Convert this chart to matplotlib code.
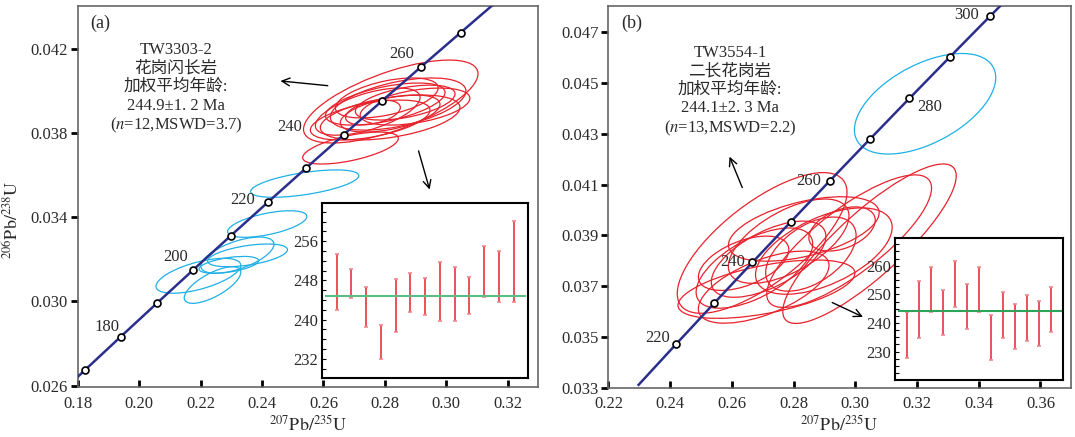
import numpy as np
import matplotlib
matplotlib.use('Agg')
import matplotlib.pyplot as plt
from matplotlib.patches import Ellipse

plt.rcParams['font.family'] = ['Liberation Serif', 'Noto Sans CJK SC']
plt.rcParams['mathtext.fontset'] = 'stix'

# decay constants (per year) used for the concordia curve
L238 = 1.55125e-10
L235 = 9.8485e-10

# concordia age marks (Ma)
ages_a = [170, 180, 190, 200, 210, 220, 230, 240, 250, 260, 270]
labels_a = [180, 200, 220, 240, 260]
ages_b = [220, 230, 240, 250, 260, 270, 280, 290, 300]
labels_b = [220, 240, 260, 280, 300]

# ellipses: x centre, y centre, x half-range, y half-range, rho
red_a = [
    (0.2819, 0.03950, 0.02839, 0.00197, 0.67),
    (0.2688, 0.03729, 0.01557, 0.00076, 0.60),
    (0.2843, 0.03938, 0.02206, 0.00124, 0.50),
    (0.2817, 0.03874, 0.02271, 0.00107, 0.45),
    (0.2806, 0.03967, 0.01671, 0.00095, 0.50),
    (0.2752, 0.03862, 0.01946, 0.00095, 0.50),
    (0.2817, 0.03893, 0.01622, 0.00088, 0.50),
    (0.2761, 0.03898, 0.00892, 0.00059, 0.40),
    (0.2866, 0.03945, 0.01622, 0.00083, 0.50),
    (0.2744, 0.03902, 0.01703, 0.00112, 0.60),
    (0.2801, 0.03938, 0.01946, 0.00100, 0.55),
    (0.2898, 0.03926, 0.01784, 0.00088, 0.45),
]
blue_a = [
    (0.2539, 0.03560, 0.0176, 0.00065, 0.58),
    (0.2417, 0.03368, 0.0129, 0.00063, 0.57),
    (0.2193, 0.03122, 0.0138, 0.00083, 0.60),
    (0.2239, 0.03078, 0.0092, 0.00087, 0.70),
    (0.2320, 0.03220, 0.0119, 0.00086, 0.60),
    (0.2353, 0.03219, 0.0130, 0.00054, 0.50),
    (0.2292, 0.03174, 0.0097, 0.00040, 0.50),
]
red_b = [
    (0.3046, 0.03867, 0.02810, 0.00314, 0.85),
    (0.2980, 0.03877, 0.02670, 0.00261, 0.80),
    (0.2698, 0.03870, 0.02750, 0.00277, 0.72),
    (0.2784, 0.03877, 0.01954, 0.00166, 0.60),
    (0.2719, 0.03806, 0.01856, 0.00150, 0.60),
    (0.2673, 0.03771, 0.01889, 0.00158, 0.60),
    (0.2898, 0.03838, 0.02214, 0.00170, 0.55),
    (0.2856, 0.03826, 0.01465, 0.00146, 0.50),
    (0.2957, 0.03925, 0.01075, 0.00087, 0.40),
    (0.2833, 0.03925, 0.02442, 0.00127, 0.50),
    (0.2712, 0.03688, 0.02866, 0.00115, 0.55),
    (0.2703, 0.03696, 0.02117, 0.00142, 0.60),
    (0.2638, 0.03790, 0.01465, 0.00107, 0.50),
]
blue_b = [
    (0.3226, 0.04418, 0.0229, 0.00198, 0.52),
]

# weighted mean insets: spot ages with upper / lower ends
spot_hi_a = [253.4, 250.4, 246.6, 238.9, 248.2, 249.5, 248.5, 251.8, 250.7, 248.7, 255.0, 254.0, 260.1]
spot_lo_a = [241.9, 244.4, 238.5, 232.0, 237.5, 241.5, 240.9, 239.8, 239.8, 241.2, 244.7, 243.6, 243.6]
mean_a = 244.9
spot_hi_b = [243.8, 254.5, 259.4, 251.6, 261.5, 253.5, 259.4, 242.7, 250.7, 246.7, 249.7, 247.6, 252.6]
spot_lo_b = [227.9, 234.9, 243.8, 235.7, 245.6, 237.8, 243.8, 227.0, 234.8, 230.9, 233.8, 231.9, 236.7]
mean_b = 244.1

text_a = 'TW3303-2\n花岗闪长岩\n加权平均年龄:\n244.9±1. 2 Ma\n($\\mathit{n}$=12,MSWD=3.7)'
text_b = 'TW3554-1\n二长花岗岩\n加权平均年龄:\n244.1±2. 3 Ma\n($\\mathit{n}$=13,MSWD=2.2)'

RED = '#e8222c'
BLUE = '#1fb0e6'
NAVY = '#2b2f8c'
GREEN_A = '#5bbf84'
GREEN_B = '#2ea35a'
INK = '#2a2a2a'


def concordia(t_ma):
    t = np.asarray(t_ma, dtype=float) * 1e6
    return np.exp(L235 * t) - 1, np.exp(L238 * t) - 1


def draw_ellipse(ax, e, color):
    xc, yc, hx, hy, rho = e
    cov = np.array([[hx * hx, rho * hx * hy], [rho * hx * hy, hy * hy]])
    w, v = np.linalg.eigh(cov)
    angle = np.degrees(np.arctan2(v[1, 1], v[0, 1]))
    ax.add_patch(Ellipse((xc, yc), 2 * np.sqrt(w[1]), 2 * np.sqrt(w[0]), angle=angle,
                         fill=False, edgecolor=color, lw=0.9))


def style_main(ax):
    for s in ax.spines.values():
        s.set_color('#666666')
        s.set_linewidth(1.2)
    ax.tick_params(axis='x', direction='in', length=5, width=2, color='black', labelsize=12,
                   pad=6, labelcolor=INK)
    ax.tick_params(axis='y', direction='out', length=5, width=2, color='black', labelsize=12,
                   pad=2, labelcolor=INK)


def draw_concordia(ax, t0, t1, ages, labels, offsets):
    cx, cy = concordia(np.linspace(t0, t1, 300))
    ax.plot(cx, cy, color=NAVY, lw=1.8, zorder=3)
    mx, my = concordia(ages)
    ax.plot(mx, my, 'o', ms=5, mfc='white', mec='black', mew=1.2, zorder=5)
    for age, off in zip(labels, offsets):
        px, py = concordia(age)
        ax.annotate(str(age), (px, py), xytext=off, textcoords='offset pixels',
                    ha='center', va='center', fontsize=12, color=INK, zorder=6)


def draw_arrow(ax, head, tail):
    ax.annotate('', xy=head, xytext=tail,
                arrowprops=dict(arrowstyle='->', color='black', lw=1, mutation_scale=14))


def draw_inset(fig, rect, hi, lo, mean, green, ylim, major, minor):
    ins = fig.add_axes(rect)
    x = np.arange(1, len(hi) + 1)
    hi = np.array(hi)
    lo = np.array(lo)
    ins.vlines(x, lo, hi, color=RED, lw=1.1)
    ins.plot(x, hi, '_', color='#f08a90', ms=3, mew=1.2)
    ins.plot(x, lo, '_', color='#f08a90', ms=3, mew=1.2)
    ins.axhline(mean, xmin=0.02, xmax=0.985, color=green, lw=1.5)
    ins.set_xlim(0, len(hi) + 1)
    ins.set_ylim(*ylim)
    ins.set_xticks([])
    ins.set_yticks(major)
    ins.set_yticks(minor, minor=True)
    ins.tick_params(axis='y', which='both', direction='in', length=3, width=0.8, labelsize=12,
                    pad=3, labelcolor=INK)
    for s in ins.spines.values():
        s.set_color('black')
        s.set_linewidth(1.5)
    return ins


fig = plt.figure(figsize=(10.75, 4.37), dpi=100)

# ---- panel (a)
ax = fig.add_axes([0.0722, 0.1137, 0.4285, 0.8726])
for e in red_a:
    draw_ellipse(ax, e, RED)
for e in blue_a:
    draw_ellipse(ax, e, BLUE)
draw_concordia(ax, 160, 300, ages_a, labels_a, [(-14, 10), (-18, 13), (-25, 2), (-54, 8), (-20, 13)])
ax.set_xlim(0.1804, 0.3299)
ax.set_ylim(0.02592, 0.04404)
ax.set_xticks([0.18, 0.20, 0.22, 0.24, 0.26, 0.28, 0.30, 0.32])
ax.set_xticklabels(['0.18', '0.20', '0.22', '0.24', '0.26', '0.28', '0.30', '0.32'])
ax.set_yticks([0.026, 0.030, 0.034, 0.038, 0.042])
ax.set_yticklabels(['0.026', '0.030', '0.034', '0.038', '0.042'])
style_main(ax)
ax.set_xlabel(r'$^{207}\mathrm{Pb}/^{235}\mathrm{U}$', fontsize=13, labelpad=2, color=INK)
ax.set_ylabel(r'$^{206}\mathrm{Pb}/^{238}\mathrm{U}$', fontsize=13, color=INK)
ax.yaxis.set_label_coords(-0.12, 0.44)
ax.text(0.05, 0.955, '(a)', transform=ax.transAxes, fontsize=13, va='center', ha='center', color=INK)
ax.text(0.212, 0.0401, text_a, ha='center', va='center', fontsize=12, linespacing=1.2, color=INK)
draw_arrow(ax, (0.2451, 0.04049), (0.2623, 0.04024))
draw_arrow(ax, (0.2948, 0.03519), (0.2907, 0.03728))
draw_inset(fig, [0.2995, 0.1339, 0.1921, 0.4005], spot_hi_a, spot_lo_a, mean_a, GREEN_A,
           (228.0, 263.7), [232, 240, 248, 256], np.arange(228, 264, 2))

# ---- panel (b)
bx = fig.add_axes([0.5660, 0.1128, 0.4303, 0.8735])
for e in red_b:
    draw_ellipse(bx, e, RED)
for e in blue_b:
    draw_ellipse(bx, e, BLUE)
draw_concordia(bx, 210, 320, ages_b, labels_b, [(-18, 6), (-20, 0), (-21, 0), (20, -9), (-24, 1)])
bx.set_xlim(0.22, 0.3699)
bx.set_ylim(0.033, 0.04803)
bx.set_xticks([0.22, 0.24, 0.26, 0.28, 0.30, 0.32, 0.34, 0.36])
bx.set_xticklabels(['0.22', '0.24', '0.26', '0.28', '0.30', '0.32', '0.34', '0.36'])
bx.set_yticks([0.033, 0.035, 0.037, 0.039, 0.041, 0.043, 0.045, 0.047])
bx.set_yticklabels(['0.033', '0.035', '0.037', '0.039', '0.041', '0.043', '0.045', '0.047'])
style_main(bx)
bx.set_xlabel(r'$^{207}\mathrm{Pb}/^{235}\mathrm{U}$', fontsize=13, labelpad=2, color=INK)
bx.text(0.05, 0.955, '(b)', transform=bx.transAxes, fontsize=13, va='center', ha='center', color=INK)
bx.text(0.2594, 0.04467, text_b, ha='center', va='center', fontsize=12, linespacing=1.2, color=INK)
draw_arrow(bx, (0.2589, 0.0422), (0.2637, 0.04078))
draw_arrow(bx, (0.3033, 0.03574), (0.2917, 0.0364))
draw_inset(fig, [0.8330, 0.1304, 0.1563, 0.3245], spot_hi_b, spot_lo_b, mean_b, GREEN_B,
           (220.1, 269.6), [230, 240, 250, 260], np.arange(222.5, 270, 2.5))

fig.savefig('out.png', dpi=100)
